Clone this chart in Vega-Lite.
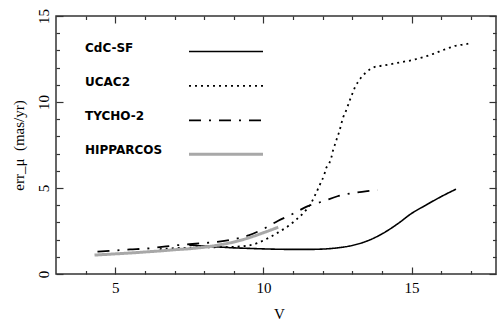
{
  "$schema": "https://vega.github.io/schema/vega-lite/v6.json",
  "width": 440,
  "height": 258,
  "autosize": {"type": "none"},
  "padding": {"left": 56, "top": 16, "right": 1, "bottom": 54},
  "background": "white",
  "config": {
    "view": {"stroke": "#333333", "strokeWidth": 1.5},
    "axis": {
      "domain": false,
      "grid": false,
      "ticks": true,
      "tickColor": "#333333",
      "tickWidth": 1.2,
      "labelFont": "Liberation Serif",
      "labelFontSize": 15,
      "labelColor": "black",
      "labelFlush": false,
      "labelOverlap": false,
      "titleFont": "Liberation Serif",
      "titleFontSize": 15,
      "titleFontWeight": "normal",
      "titleColor": "black"
    },
    "line": {"strokeCap": "butt", "strokeJoin": "round"}
  },
  "data": {
    "values": [
      {"series": "CdC-SF", "V": 7.5, "err": 1.68},
      {"series": "CdC-SF", "V": 8.0, "err": 1.62},
      {"series": "CdC-SF", "V": 8.5, "err": 1.57},
      {"series": "CdC-SF", "V": 9.0, "err": 1.52},
      {"series": "CdC-SF", "V": 9.5, "err": 1.49},
      {"series": "CdC-SF", "V": 10.0, "err": 1.46},
      {"series": "CdC-SF", "V": 10.5, "err": 1.44},
      {"series": "CdC-SF", "V": 11.0, "err": 1.43},
      {"series": "CdC-SF", "V": 11.5, "err": 1.43},
      {"series": "CdC-SF", "V": 12.0, "err": 1.45},
      {"series": "CdC-SF", "V": 12.5, "err": 1.52},
      {"series": "CdC-SF", "V": 13.0, "err": 1.66},
      {"series": "CdC-SF", "V": 13.5, "err": 1.92},
      {"series": "CdC-SF", "V": 14.0, "err": 2.33},
      {"series": "CdC-SF", "V": 14.5, "err": 2.88},
      {"series": "CdC-SF", "V": 15.0, "err": 3.52},
      {"series": "CdC-SF", "V": 15.5, "err": 4.02},
      {"series": "CdC-SF", "V": 16.0, "err": 4.5},
      {"series": "CdC-SF", "V": 16.5, "err": 4.93},

      {"series": "UCAC2", "V": 6.5, "err": 1.45},
      {"series": "UCAC2", "V": 7.0, "err": 1.5},
      {"series": "UCAC2", "V": 7.5, "err": 1.53},
      {"series": "UCAC2", "V": 8.0, "err": 1.55},
      {"series": "UCAC2", "V": 8.5, "err": 1.56},
      {"series": "UCAC2", "V": 9.0, "err": 1.58},
      {"series": "UCAC2", "V": 9.5, "err": 1.66},
      {"series": "UCAC2", "V": 9.8, "err": 1.8},
      {"series": "UCAC2", "V": 10.0, "err": 1.95},
      {"series": "UCAC2", "V": 10.25, "err": 2.17},
      {"series": "UCAC2", "V": 10.5, "err": 2.42},
      {"series": "UCAC2", "V": 10.85, "err": 2.8},
      {"series": "UCAC2", "V": 11.1, "err": 3.15},
      {"series": "UCAC2", "V": 11.35, "err": 3.55},
      {"series": "UCAC2", "V": 11.6, "err": 4.1},
      {"series": "UCAC2", "V": 11.8, "err": 4.79},
      {"series": "UCAC2", "V": 11.9, "err": 5.17},
      {"series": "UCAC2", "V": 12.06, "err": 5.81},
      {"series": "UCAC2", "V": 12.12, "err": 6.16},
      {"series": "UCAC2", "V": 12.22, "err": 6.43},
      {"series": "UCAC2", "V": 12.3, "err": 6.82},
      {"series": "UCAC2", "V": 12.36, "err": 7.25},
      {"series": "UCAC2", "V": 12.43, "err": 7.6},
      {"series": "UCAC2", "V": 12.5, "err": 7.98},
      {"series": "UCAC2", "V": 12.57, "err": 8.33},
      {"series": "UCAC2", "V": 12.63, "err": 8.74},
      {"series": "UCAC2", "V": 12.7, "err": 9.15},
      {"series": "UCAC2", "V": 12.78, "err": 9.46},
      {"series": "UCAC2", "V": 12.86, "err": 9.83},
      {"series": "UCAC2", "V": 12.94, "err": 10.21},
      {"series": "UCAC2", "V": 13.02, "err": 10.56},
      {"series": "UCAC2", "V": 13.1, "err": 10.89},
      {"series": "UCAC2", "V": 13.2, "err": 11.18},
      {"series": "UCAC2", "V": 13.32, "err": 11.47},
      {"series": "UCAC2", "V": 13.45, "err": 11.7},
      {"series": "UCAC2", "V": 13.6, "err": 11.9},
      {"series": "UCAC2", "V": 13.74, "err": 12.03},
      {"series": "UCAC2", "V": 13.91, "err": 12.09},
      {"series": "UCAC2", "V": 14.08, "err": 12.13},
      {"series": "UCAC2", "V": 14.27, "err": 12.19},
      {"series": "UCAC2", "V": 14.45, "err": 12.25},
      {"series": "UCAC2", "V": 14.63, "err": 12.31},
      {"series": "UCAC2", "V": 14.81, "err": 12.37},
      {"series": "UCAC2", "V": 14.99, "err": 12.42},
      {"series": "UCAC2", "V": 15.17, "err": 12.5},
      {"series": "UCAC2", "V": 15.34, "err": 12.58},
      {"series": "UCAC2", "V": 15.51, "err": 12.67},
      {"series": "UCAC2", "V": 15.68, "err": 12.77},
      {"series": "UCAC2", "V": 15.85, "err": 12.87},
      {"series": "UCAC2", "V": 15.99, "err": 12.97},
      {"series": "UCAC2", "V": 16.16, "err": 13.08},
      {"series": "UCAC2", "V": 16.32, "err": 13.18},
      {"series": "UCAC2", "V": 16.46, "err": 13.26},
      {"series": "UCAC2", "V": 16.61, "err": 13.3},
      {"series": "UCAC2", "V": 16.74, "err": 13.35},
      {"series": "UCAC2", "V": 16.88, "err": 13.38},
      {"series": "UCAC2", "V": 16.99, "err": 13.48},

      {"series": "TYCHO-2", "V": 4.4, "err": 1.3},
      {"series": "TYCHO-2", "V": 5.0, "err": 1.37},
      {"series": "TYCHO-2", "V": 5.5, "err": 1.43},
      {"series": "TYCHO-2", "V": 6.0, "err": 1.47},
      {"series": "TYCHO-2", "V": 6.5, "err": 1.56},
      {"series": "TYCHO-2", "V": 7.0, "err": 1.66},
      {"series": "TYCHO-2", "V": 7.5, "err": 1.73},
      {"series": "TYCHO-2", "V": 8.0, "err": 1.8},
      {"series": "TYCHO-2", "V": 8.5, "err": 1.88},
      {"series": "TYCHO-2", "V": 9.0, "err": 2.02},
      {"series": "TYCHO-2", "V": 9.5, "err": 2.25},
      {"series": "TYCHO-2", "V": 10.0, "err": 2.62},
      {"series": "TYCHO-2", "V": 10.5, "err": 3.1},
      {"series": "TYCHO-2", "V": 11.0, "err": 3.5},
      {"series": "TYCHO-2", "V": 11.5, "err": 3.95},
      {"series": "TYCHO-2", "V": 12.0, "err": 4.22},
      {"series": "TYCHO-2", "V": 12.5, "err": 4.52},
      {"series": "TYCHO-2", "V": 13.0, "err": 4.7},
      {"series": "TYCHO-2", "V": 13.5, "err": 4.82},
      {"series": "TYCHO-2", "V": 13.85, "err": 4.88},

      {"series": "HIPPARCOS", "V": 4.3, "err": 1.1},
      {"series": "HIPPARCOS", "V": 5.0, "err": 1.17},
      {"series": "HIPPARCOS", "V": 5.5, "err": 1.22},
      {"series": "HIPPARCOS", "V": 6.0, "err": 1.28},
      {"series": "HIPPARCOS", "V": 6.5, "err": 1.34},
      {"series": "HIPPARCOS", "V": 7.0, "err": 1.41},
      {"series": "HIPPARCOS", "V": 7.5, "err": 1.47},
      {"series": "HIPPARCOS", "V": 8.0, "err": 1.56},
      {"series": "HIPPARCOS", "V": 8.5, "err": 1.69},
      {"series": "HIPPARCOS", "V": 9.0, "err": 1.86},
      {"series": "HIPPARCOS", "V": 9.5, "err": 2.1},
      {"series": "HIPPARCOS", "V": 10.0, "err": 2.4},
      {"series": "HIPPARCOS", "V": 10.5, "err": 2.72}
    ]
  },
  "layer": [
    {
      "mark": {"type": "line", "interpolate": "monotone", "clip": true},
      "encoding": {
        "x": {
          "field": "V",
          "type": "quantitative",
          "scale": {"domain": [3, 17.85], "nice": false, "zero": false},
          "axis": {
            "orient": "bottom",
            "values": [4, 5, 6, 7, 8, 9, 10, 11, 12, 13, 14, 15, 16, 17],
            "tickSize": {"condition": {"test": "datum.value % 5 === 0", "value": -7}, "value": -3.5},
            "labelExpr": "datum.value % 5 === 0 ? datum.label : ''",
            "labelFont": "Liberation Serif",
            "labelPadding": 13,
            "title": "V",
            "titleX": 223,
            "titleY": 44,
            "titleBaseline": "alphabetic"
          }
        },
        "y": {
          "field": "err",
          "type": "quantitative",
          "scale": {"domain": [0, 15], "nice": false, "zero": false},
          "axis": {
            "orient": "left",
            "values": [0, 1, 2, 3, 4, 5, 6, 7, 8, 9, 10, 11, 12, 13, 14, 15],
            "tickSize": {"condition": {"test": "datum.value % 5 === 0", "value": -7}, "value": -3.5},
            "labelExpr": "datum.value % 5 === 0 ? datum.label : ''",
            "labelFont": "Liberation Serif",
            "labelAngle": -90,
            "labelAlign": "center",
            "labelBaseline": "bottom",
            "labelPadding": 12,
            "title": "err_μ\u00a0\u00a0(mas/yr)",
            "titleAngle": -90,
            "titleX": -38,
            "titleY": 129,
            "titleAlign": "center",
            "titleBaseline": "middle"
          }
        },
        "color": {
          "field": "series",
          "type": "nominal",
          "scale": {"domain": ["CdC-SF", "UCAC2", "TYCHO-2", "HIPPARCOS"], "range": ["black", "black", "black", "#a8a8a8"]},
          "legend": {
            "orient": "none",
            "legendX": 161,
            "legendY": 27,
            "title": null,
            "padding": 0,
            "symbolType": "M-5,0H5",
            "symbolSize": 219,
            "rowPadding": 21.4,
            "labelOffset": -150,
            "labelAlign": "left",
            "labelBaseline": "alphabetic",
            "labelFont": "DejaVu Sans",
            "labelFontWeight": "bold",
            "labelFontSize": 12,
            "labelColor": "black"
          }
        },
        "strokeDash": {
          "field": "series",
          "type": "nominal",
          "scale": {"domain": ["CdC-SF", "UCAC2", "TYCHO-2", "HIPPARCOS"], "range": [[1, 0], [2, 4], [12, 8, 2, 8], [1, 0]]}
        },
        "strokeWidth": {
          "field": "series",
          "type": "nominal",
          "scale": {"type": "ordinal", "domain": ["CdC-SF", "UCAC2", "TYCHO-2", "HIPPARCOS"], "range": [1.6, 1.8, 1.8, 3]}
        }
      }
    },
    {
      "mark": {"type": "line", "opacity": 0},
      "encoding": {
        "detail": {"field": "series", "type": "nominal"},
        "x": {
          "field": "V",
          "type": "quantitative",
          "scale": {"domain": [3, 17.85], "nice": false, "zero": false},
          "axis": {
            "orient": "top",
            "values": [4, 5, 6, 7, 8, 9, 10, 11, 12, 13, 14, 15, 16, 17],
            "tickSize": {"condition": {"test": "datum.value % 5 === 0", "value": -7}, "value": -3.5},
            "labels": false,
            "title": null
          }
        },
        "y": {
          "field": "err",
          "type": "quantitative",
          "scale": {"domain": [0, 15], "nice": false, "zero": false},
          "axis": {
            "orient": "right",
            "values": [0, 1, 2, 3, 4, 5, 6, 7, 8, 9, 10, 11, 12, 13, 14, 15],
            "tickSize": {"condition": {"test": "datum.value % 5 === 0", "value": -7}, "value": -3.5},
            "labels": false,
            "title": null
          }
        }
      }
    }
  ],
  "resolve": {"axis": {"x": "independent", "y": "independent"}}
}
